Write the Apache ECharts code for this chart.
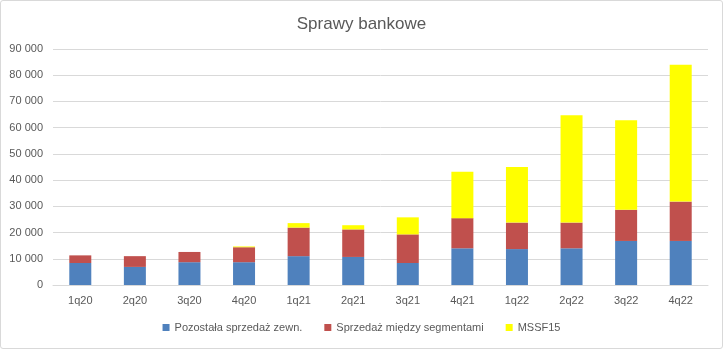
<!DOCTYPE html>
<html><head><meta charset="utf-8">
<script src="https://cdn.jsdelivr.net/npm/echarts@6/dist/echarts.min.js"></script>
<style>
html,body{margin:0;padding:0;background:#fff;}
#wrap{position:absolute;left:0;top:0;width:721px;height:347px;border:1px solid #d9d9d9;border-radius:3px;}
#c{width:721px;height:347px;}
</style></head>
<body><div id="wrap"><div id="c"></div></div>
<script>
const categories = ['1q20','2q20','3q20','4q20','1q21','2q21','3q21','4q21','1q22','2q22','3q22','4q22'];
const seriesNames = ['Pozostała sprzedaż zewn.','Sprzedaż między segmentami','MSSF15'];
const pozostala = [8400, 6900, 8700, 8700, 11000, 10700, 8400, 14000, 13700, 14000, 16800, 16800];
const miedzySeg = [2900, 4100, 3900, 5700, 10900, 10500, 10900, 11500, 10100, 9800, 11900, 15000];
const mssf15 = [0, 0, 0, 300, 1700, 1600, 6500, 17700, 21200, 40900, 34100, 52200];
const yTicks = [0, 10000, 20000, 30000, 40000, 50000, 60000, 70000, 80000, 90000];

const fmt = v => String(v).replace(/\B(?=(\d{3})+(?!\d))/g, ' ');
const colors = ['#4F81BD','#C0504D','#FFFF00'];
const chart = echarts.init(document.getElementById('c'));
const mk = (name, data, i) => ({
  name, type:'bar', stack:'s', data, barWidth:22,
  itemStyle:{color:colors[i]}
});
chart.setOption({
  animation:false,
  title:{text:'Sprawy bankowe', left:'center', top:10,
    textStyle:{fontFamily:'Liberation Sans', fontSize:17, fontWeight:'normal', color:'#595959'}},
  legend:{bottom:10, left:'center', itemWidth:7, itemHeight:7, itemGap:22, icon:'rect',
    textStyle:{fontFamily:'Liberation Sans', fontSize:11, color:'#595959'}},
  grid:{left:52, right:14, top:48, bottom:63, containLabel:false},
  xAxis:{type:'category', data:categories,
    axisLine:{lineStyle:{color:'#d9d9d9'}}, axisTick:{show:false},
    axisLabel:{fontFamily:'Liberation Sans', fontSize:11, color:'#595959', margin:10}},
  yAxis:{type:'value', min:yTicks[0], max:yTicks[yTicks.length-1], interval:10000,
    axisLine:{show:false}, axisTick:{show:false},
    splitLine:{lineStyle:{color:'#d9d9d9'}},
    axisLabel:{fontFamily:'Liberation Sans', fontSize:11, color:'#595959', margin:10, formatter:fmt}},
  series:[mk(seriesNames[0],pozostala,0), mk(seriesNames[1],miedzySeg,1), mk(seriesNames[2],mssf15,2)]
});
</script></body></html>
